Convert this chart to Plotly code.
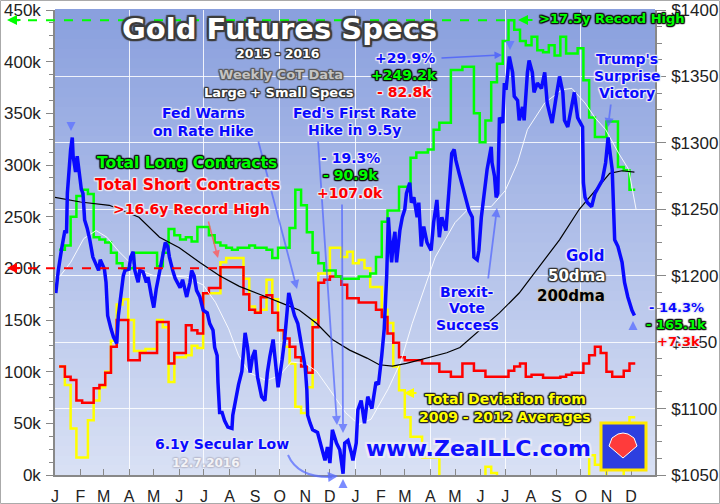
import plotly.graph_objects as go
import pandas as pd

# ---------------- data ----------------
month_letters = ["J", "F", "M", "A", "M", "J", "J", "A", "S", "O", "N", "D"] * 2
month_starts = pd.date_range("2015-01-01", periods=24, freq="MS")

# weekly CoT report dates (Tuesdays)
cot_dates = pd.date_range("2015-01-06", periods=101, freq="7D")

# total long contracts, large + small specs (thousands)
long_k = [218, 222, 250, 270, 276, 272, 230, 228, 225, 215,
          205, 200, 200, 215, 215, 215, 215, 202, 215, 238,
          232, 228, 230, 226, 240, 240, 232, 225, 222, 220,
          218, 220, 220, 222, 220, 220, 218, 210, 220, 220,
          239, 276, 261, 235, 215, 205, 198, 198, 192, 190,
          190, 190, 192, 192, 195, 211, 245, 256, 256, 279,
          279, 307, 312, 312, 315, 334, 341, 341, 392, 392,
          395, 395, 350, 322, 343, 380, 398, 420, 440, 431,
          420, 416, 424, 411, 409, 416, 406, 424, 408, 408,
          413, 382, 346, 327, 327, 342, 342, 298, 295, 276, 276]

# total short contracts (thousands)
short_k = [105, 95, 92, 72, 70, 70, 84, 87, 99, 124,
           150, 150, 111, 111, 118, 118, 118, 148, 148, 108,
           118, 118, 145, 140, 137, 176, 181, 181, 201, 201,
           201, 201, 175, 160, 157, 172, 174, 157, 140, 132,
           124, 114, 105, 99, 143, 186, 189, 192, 192, 184,
           171, 171, 167, 167, 167, 160, 153, 137, 128, 114,
           111, 111, 111, 108, 108, 108, 100, 100, 95, 95,
           108, 108, 101, 101, 95, 95, 95, 95, 101, 105,
           108, 95, 97, 97, 94, 94, 94, 95, 97, 99,
           99, 108, 116, 124, 118, 100, 95, 95, 101, 108, 108]

# total deviation from 2009-2012 averages (thousands)
deviation_k = [105, 87, 45, 17, 17, 53, 72, 85, 100, 130,
               165, 170, 150, 120, 120, 122, 122, 150, 143, 90,
               114, 114, 116, 125, 123, 176, 176, 176, 206, 210,
               210, 210, 190, 163, 158, 160, 189, 170, 140, 124,
               108, 66, 60, 85, 150, 195, 195, 220, 220, 211,
               216, 205, 208, 200, 182, 182, 160, 147, 105, 82,
               56, 37, 37, 17, 17, 17, -10, -25, -30, -30,
               -25, -20, -15, -10, 8, 2, -15, -30, -40, -35,
               -30, -30, -25, -25, -20, -25, -30, -30, -25, -20,
               -5, -2, 19, 10, 10, -5, -8, -5, 10, 56, 56]

gold_dates = [
    "2015-01-02", "2015-01-05", "2015-01-09", "2015-01-13", "2015-01-15", "2015-01-16", "2015-01-20", "2015-01-22",
    "2015-01-23", "2015-01-26", "2015-01-28", "2015-01-30", "2015-02-02", "2015-02-04", "2015-02-06", "2015-02-09",
    "2015-02-12", "2015-02-16", "2015-02-19", "2015-02-23", "2015-02-25", "2015-03-02", "2015-03-04", "2015-03-06",
    "2015-03-10", "2015-03-13", "2015-03-17", "2015-03-19", "2015-03-23", "2015-03-25", "2015-03-27", "2015-04-01",
    "2015-04-03", "2015-04-06", "2015-04-08", "2015-04-12", "2015-04-14", "2015-04-18", "2015-04-22", "2015-04-24",
    "2015-04-28", "2015-05-01", "2015-05-04", "2015-05-06", "2015-05-08", "2015-05-12", "2015-05-15", "2015-05-18",
    "2015-05-20", "2015-05-24", "2015-05-27", "2015-06-02", "2015-06-05", "2015-06-10", "2015-06-14", "2015-06-16",
    "2015-06-19", "2015-06-22", "2015-06-26", "2015-06-30", "2015-07-05", "2015-07-08", "2015-07-12", "2015-07-14",
    "2015-07-17", "2015-07-18", "2015-07-19", "2015-07-20", "2015-07-23", "2015-07-26", "2015-07-30", "2015-08-04",
    "2015-08-05", "2015-08-08", "2015-08-10", "2015-08-12", "2015-08-16", "2015-08-20", "2015-08-23", "2015-08-26",
    "2015-08-29", "2015-09-01", "2015-09-04", "2015-09-09", "2015-09-13", "2015-09-16", "2015-09-19", "2015-09-23",
    "2015-09-26", "2015-09-29", "2015-10-04", "2015-10-07", "2015-10-12", "2015-10-15", "2015-10-16", "2015-10-19",
    "2015-10-23", "2015-10-28", "2015-11-01", "2015-11-03", "2015-11-04", "2015-11-07", "2015-11-10", "2015-11-16",
    "2015-11-21", "2015-11-25", "2015-11-28", "2015-12-01", "2015-12-04", "2015-12-09", "2015-12-13", "2015-12-15",
    "2015-12-17", "2015-12-19", "2015-12-23", "2015-12-27", "2015-12-29", "2016-01-02", "2016-01-04", "2016-01-08",
    "2016-01-12", "2016-01-16", "2016-01-21", "2016-01-26", "2016-01-29", "2016-02-02", "2016-02-05", "2016-02-08",
    "2016-02-10", "2016-02-12", "2016-02-14", "2016-02-16", "2016-02-18", "2016-02-20", "2016-02-24", "2016-02-27",
    "2016-03-01", "2016-03-03", "2016-03-07", "2016-03-09", "2016-03-12", "2016-03-16", "2016-03-18", "2016-03-21",
    "2016-03-24", "2016-03-28", "2016-04-02", "2016-04-05", "2016-04-09", "2016-04-12", "2016-04-15", "2016-04-20",
    "2016-04-24", "2016-04-27", "2016-04-30", "2016-05-02", "2016-05-06", "2016-05-09", "2016-05-14", "2016-05-18",
    "2016-05-22", "2016-05-24", "2016-05-28", "2016-05-30", "2016-06-02", "2016-06-06", "2016-06-09", "2016-06-14",
    "2016-06-15", "2016-06-18", "2016-06-20", "2016-06-22", "2016-06-24", "2016-06-28", "2016-06-30", "2016-07-02",
    "2016-07-06", "2016-07-10", "2016-07-12", "2016-07-16", "2016-07-18", "2016-07-22", "2016-07-24", "2016-07-28",
    "2016-07-30", "2016-08-03", "2016-08-05", "2016-08-09", "2016-08-14", "2016-08-18", "2016-08-21", "2016-08-24",
    "2016-08-27", "2016-09-01", "2016-09-05", "2016-09-09", "2016-09-11", "2016-09-15", "2016-09-20", "2016-09-23",
    "2016-09-27", "2016-10-03", "2016-10-04", "2016-10-06", "2016-10-09", "2016-10-14", "2016-10-18", "2016-10-22",
    "2016-10-27", "2016-10-31", "2016-11-03", "2016-11-08", "2016-11-11", "2016-11-15", "2016-11-20", "2016-11-23",
    "2016-11-27", "2016-12-02", "2016-12-05"]
gold_price = [
    1187, 1204, 1220, 1234, 1232, 1262, 1295, 1304,
    1290, 1278, 1290, 1280, 1265, 1262, 1242, 1236,
    1228, 1214, 1210, 1204, 1212, 1205, 1195, 1170,
    1160, 1154, 1149, 1170, 1190, 1200, 1204, 1205,
    1214, 1218, 1204, 1195, 1204, 1203, 1195, 1199,
    1185, 1176, 1190, 1197, 1204, 1217, 1225, 1222,
    1214, 1204, 1198, 1191, 1197, 1184, 1195, 1204,
    1200, 1189, 1184, 1174, 1172, 1164, 1159, 1146,
    1140, 1120, 1101, 1097, 1097, 1091, 1086, 1085,
    1095, 1105, 1114, 1118, 1128, 1157, 1146, 1127,
    1139, 1144, 1124, 1109, 1106, 1127, 1139, 1152,
    1134, 1116, 1137, 1152, 1187, 1180, 1176, 1170,
    1164, 1146, 1131, 1114, 1095, 1089, 1084, 1082,
    1071, 1061, 1071, 1059, 1084, 1074, 1069, 1058,
    1051, 1074, 1076, 1067, 1061, 1074, 1099, 1106,
    1089, 1109, 1100, 1120, 1118, 1140, 1160, 1200,
    1244, 1225, 1210, 1225, 1233, 1210, 1234, 1244,
    1250, 1262, 1270, 1255, 1259, 1244, 1255, 1222,
    1237, 1225, 1219, 1240, 1257, 1229, 1244, 1234,
    1267, 1292, 1295, 1287, 1277, 1270, 1257, 1249,
    1244, 1214, 1212, 1219, 1244, 1264, 1280, 1297,
    1285, 1275, 1259, 1262, 1319, 1315, 1345, 1340,
    1365, 1353, 1335, 1332, 1317, 1327, 1317, 1353,
    1362, 1353, 1338, 1345, 1341, 1353, 1330, 1322,
    1315, 1335, 1350, 1338, 1317, 1312, 1327, 1338,
    1319, 1312, 1270, 1259, 1255, 1252, 1262, 1267,
    1272, 1285, 1304, 1280, 1227, 1222, 1210, 1195,
    1184, 1174, 1170]

dma200_dates = ["2015-01-01", "2015-02-01", "2015-03-08", "2015-04-13", "2015-05-08", "2015-06-01", "2015-06-26",
                "2015-07-20", "2015-08-13", "2015-08-26", "2015-09-15", "2015-10-05", "2015-10-25", "2015-11-15",
                "2015-12-04", "2015-12-25", "2016-01-15", "2016-01-30", "2016-02-15", "2016-03-03", "2016-03-28",
                "2016-04-21", "2016-05-07", "2016-05-31", "2016-06-24", "2016-07-18", "2016-08-12", "2016-09-05",
                "2016-09-29", "2016-10-20", "2016-11-05", "2016-11-20", "2016-12-05"]
dma200 = [1259, 1255.5, 1253, 1244, 1229, 1221, 1210,
          1200, 1192, 1189, 1184, 1179, 1174, 1164,
          1152, 1144, 1138, 1133, 1132, 1134, 1138,
          1142, 1146, 1159, 1172, 1187, 1207, 1227,
          1250, 1265, 1277, 1279, 1278]

dma50_dates = ["2015-01-01", "2015-01-20", "2015-02-05", "2015-02-20", "2015-03-05", "2015-03-20", "2015-04-10",
               "2015-05-01", "2015-05-20", "2015-06-10", "2015-06-30", "2015-07-15", "2015-07-31", "2015-08-12",
               "2015-08-25", "2015-09-15", "2015-10-01", "2015-10-15", "2015-11-01", "2015-11-15", "2015-12-01",
               "2015-12-20", "2016-01-05", "2016-01-20", "2016-02-10", "2016-02-25", "2016-03-10", "2016-04-07",
               "2016-05-01", "2016-05-20", "2016-06-14", "2016-07-01", "2016-07-16", "2016-07-28", "2016-08-18",
               "2016-09-08", "2016-09-20", "2016-10-06", "2016-10-18", "2016-10-31", "2016-11-16", "2016-11-28",
               "2016-12-07"]
dma50 = [1195, 1210, 1228, 1234, 1229, 1218, 1205,
         1200, 1200, 1199, 1193, 1180, 1160, 1140,
         1127, 1121, 1125, 1135, 1134, 1128, 1114,
         1097, 1088, 1092, 1115, 1135, 1164, 1214,
         1240, 1252, 1252, 1264, 1285, 1310, 1330,
         1340, 1341, 1330, 1319, 1310, 1292, 1280,
         1250]

# ---------------- geometry helpers (pixel -> paper) ----------------
W, H = 720, 504
ML, MR, MT, MB = 55, 65, 10, 29
PW, PH = W - ML - MR, H - MT - MB


def px(x):
    return (x - ML) / PW


def py(y):
    return (H - MB - y) / PH


def outline(c, w=1):
    offs = [(-w, -w), (w, -w), (-w, w), (w, w), (0, w), (0, -w), (w, 0), (-w, 0)]
    return ", ".join(f"{dx}px {dy}px 1px {c}" for dx, dy in offs)


BLUE = "#0a0aff"
GREEN = "#00ff00"
RED = "#ff0000"
YELLOW = "#ffff00"
LIGHT = "rgba(235,235,245,0.95)"
DARK = "#333333"
FONT = "DejaVu Sans"

fig = go.Figure()

fig.add_trace(go.Scatter(x=cot_dates, y=deviation_k, mode="lines", line=dict(color=YELLOW, width=2.5, shape="hv"),
                         xaxis="x", yaxis="y", hoverinfo="skip"))
fig.add_trace(go.Scatter(x=cot_dates, y=short_k, mode="lines", line=dict(color=RED, width=2.5, shape="hv"),
                         xaxis="x", yaxis="y", hoverinfo="skip"))
fig.add_trace(go.Scatter(x=cot_dates, y=long_k, mode="lines", line=dict(color=GREEN, width=2.5, shape="hv"),
                         xaxis="x", yaxis="y", hoverinfo="skip"))
fig.add_trace(go.Scatter(x=dma50_dates, y=dma50, mode="lines", line=dict(color="rgba(255,255,255,0.9)", width=1),
                         xaxis="x", yaxis="y2", hoverinfo="skip"))
fig.add_trace(go.Scatter(x=dma200_dates, y=dma200, mode="lines", line=dict(color="#000000", width=1.2),
                         xaxis="x", yaxis="y2", hoverinfo="skip"))
fig.add_trace(go.Scatter(x=gold_dates, y=gold_price, mode="lines", line=dict(color=BLUE, width=3.5),
                         xaxis="x", yaxis="y2", hoverinfo="skip"))

xr = ["2015-01-01", "2016-12-30"]
tickfont = dict(family="Liberation Sans", size=17, color="#222222")

fig.update_layout(
    width=W, height=H,
    margin=dict(l=ML, r=MR, t=MT, b=MB, pad=0, autoexpand=False),
    paper_bgcolor="white",
    plot_bgcolor="rgba(0,0,0,0)",
    showlegend=False,
    xaxis=dict(type="date", range=xr, tickmode="array", tickvals=month_starts, ticktext=month_letters,
               ticks="inside", ticklen=6, tickcolor="#888888", showgrid=False, showline=True,
               linecolor="#888888", linewidth=1.5, tickfont=dict(family="Liberation Sans", size=16, color="#222222"),
               ticklabelstandoff=6, zeroline=False, automargin=False),
    xaxis2=dict(type="date", range=xr, overlaying="x", anchor="y", tick0="2015-01-01", dtick="M3",
                showgrid=True, gridcolor="rgba(255,255,255,0.85)", gridwidth=1.2,
                showticklabels=False, ticks="", showline=False, zeroline=False, automargin=False),
    yaxis=dict(range=[0, 450], dtick=50, ticksuffix="k", ticks="outside", ticklen=7, tickcolor="#888888",
               showgrid=False, showline=True, linecolor="#888888", linewidth=1.5, zeroline=False,
               tickfont=tickfont, ticklabelstandoff=2, automargin=False,
               minor=dict(dtick=12.5, ticks="outside", ticklen=4, tickcolor="#888888")),
    yaxis2=dict(range=[1050, 1400], dtick=50, tickprefix="$", overlaying="y", side="right", anchor="x",
                ticks="outside", ticklen=9, tickcolor="#888888", showgrid=True,
                gridcolor="rgba(255,255,255,0.85)", gridwidth=1.2, showline=True, linecolor="#888888",
                linewidth=1.5, zeroline=False, tickfont=tickfont, ticklabelstandoff=2, automargin=False,
                minor=dict(dtick=12.5, ticks="outside", ticklen=5, tickcolor="#888888")),
)
# invisible trace so the quarterly grid axis renders
fig.add_trace(go.Scatter(x=[xr[0]], y=[None], xaxis="x2", yaxis="y", mode="lines", hoverinfo="skip"))

shapes = []
# gradient plot background
top_c = (138, 160, 222)
bot_c = (216, 224, 244)
N = 48
for i in range(N):
    t = i / (N - 1)
    c = tuple(int(round(bot_c[k] + (top_c[k] - bot_c[k]) * t)) for k in range(3))
    shapes.append(dict(type="rect", xref="paper", yref="paper", x0=0, x1=1, y0=i / N, y1=(i + 1) / N + 0.002,
                       fillcolor=f"rgb{c}", line=dict(width=0), layer="below"))

# record-high dashed lines
shapes.append(dict(type="line", xref="paper", yref="y", x0=px(10), x1=px(507), y0=max(long_k), y1=max(long_k),
                   line=dict(color=GREEN, width=2, dash="dash")))
shapes.append(dict(type="line", xref="paper", yref="y", x0=px(10), x1=px(220), y0=200, y1=200,
                   line=dict(color=RED, width=2, dash="dash")))

# secular low curved arrow
shapes.append(dict(type="path", xref="paper", yref="paper",
                   path=f"M {px(288)},{py(455)} Q {px(298)},{py(478)} {px(332)},{py(477)}",
                   line=dict(color="rgba(90,110,255,0.75)", width=2)))

# logo
shapes.append(dict(type="rect", xref="paper", yref="paper", x0=px(601), x1=px(646), y0=py(470), y1=py(423),
                   fillcolor="#2d3fe0", line=dict(color="#ffe800", width=3)))
shapes.append(dict(type="path", xref="paper", yref="paper",
                   path=(f"M {px(623)},{py(458)} L {px(609)},{py(446)} L {px(612)},{py(438)} L {px(618)},{py(434)} "
                         f"L {px(623)},{py(433)} L {px(628)},{py(434)} L {px(634)},{py(438)} L {px(637)},{py(446)} Z"),
                   fillcolor="#ff3b3b", line=dict(color="white", width=1)))
# figure border
shapes.append(dict(type="rect", xref="paper", yref="paper", x0=px(0.5), x1=px(719.5), y0=py(503.5), y1=py(0.5),
                   line=dict(color="#aaaaaa", width=1)))
fig.update_layout(shapes=shapes)

ann = []


def text(t, x, y, size, color, oc, ow=1, xanchor="center", family=FONT):
    ann.append(dict(text=t, x=px(x), y=py(y), xref="paper", yref="paper", showarrow=False,
                    xanchor=xanchor, yanchor="middle",
                    font=dict(family=family, size=size, color=color, weight="bold", shadow=outline(oc, ow))))


def arrow(hx, hy, tx, ty, color, width=2, head=2, size=1.0):
    ann.append(dict(text="", x=px(hx), y=py(hy), xref="paper", yref="paper", showarrow=True,
                    ax=tx - hx, ay=ty - hy, axref="pixel", ayref="pixel",
                    arrowcolor=color, arrowwidth=width, arrowhead=head, arrowsize=size, standoff=0))


text("Gold Futures Specs", 279, 29, 29, "white", "#3c3c3c", 2)
text("2015 - 2016", 278, 54, 12.5, "white", DARK)
text("Weekly CoT Data", 281, 74, 13, "#c4c4c4", "#5a5a5a")
text("Large + Small Specs", 279, 92, 13, "white", DARK)

text("+29.9%", 405, 58, 14, BLUE, LIGHT)
text("+249.2k", 404, 75, 14, GREEN, "#111111")
text("- 82.8k", 404, 92, 14, RED, LIGHT)
arrow(502, 55, 440, 58, "rgba(70,90,255,0.75)", 1.5)

text("Fed Warns", 203, 113, 14, BLUE, LIGHT)
text("on Rate Hike", 203, 131, 14, BLUE, LIGHT)
arrow(297, 289, 258, 140, "rgba(80,100,255,0.7)", 1.8)

text("Fed's First Rate", 355, 113, 14, BLUE, LIGHT)
text("Hike in 9.5y", 354, 130, 14, BLUE, LIGHT)
arrow(337, 425, 318, 140, "rgba(80,100,255,0.7)", 1.8)

text("- 19.3%", 350, 158, 14, BLUE, LIGHT)
text("- 90.9k", 350, 175, 14, GREEN, "#111111")
text("+107.0k", 350, 193, 14, RED, LIGHT)
arrow(343, 433, 342, 203, "rgba(80,100,255,0.7)", 1.8)

text("Total Long Contracts", 187, 163, 15.5, GREEN, "#111111")
text("Total Short Contracts", 187, 185, 15.5, RED, LIGHT)
text(">16.6y Record High", 191, 209, 14, RED, LIGHT)
arrow(218, 258, 208, 220, "rgba(255,90,90,0.8)", 1.5)

text(">17.5y Record High", 537, 18, 13, GREEN, "#111111", xanchor="left")
arrow(518, 20, 534, 20, GREEN, 2, 2)
arrow(7, 20, 22, 20, GREEN, 2, 2)
arrow(7, 268, 22, 268, RED, 2, 2)

text("Trump's", 627, 59, 14, BLUE, LIGHT)
text("Surprise", 627, 76, 14, BLUE, LIGHT)
text("Victory", 627, 93, 14, BLUE, LIGHT)
arrow(608, 127, 611, 103, "rgba(80,100,255,0.7)", 1.8)

text("Gold", 607, 256, 15, BLUE, LIGHT, xanchor="right")
text("50dma", 607, 276, 15, "white", DARK, xanchor="right")
text("200dma", 607, 296, 15, "black", "rgba(200,200,200,0.95)", xanchor="right")

text("Brexit-", 467, 292, 14, BLUE, LIGHT)
text("Vote", 467, 308, 14, BLUE, LIGHT)
text("Success", 467, 325, 14, BLUE, LIGHT)
arrow(497, 208, 488, 280, "rgba(80,100,255,0.7)", 1.8)

text("- 14.3%", 676, 307, 13, BLUE, LIGHT)
text("- 165.1k", 676, 324, 13, GREEN, "#111111")
text("+7.3k", 678, 341, 13, RED, LIGHT)

text("6.1y Secular Low", 222, 444, 14, BLUE, LIGHT)
text("12.7.2016", 206, 463, 12, "rgba(255,255,255,0.85)", "rgba(180,180,200,0.5)")
arrow(338, 476, 328, 477, "rgba(90,110,255,0.8)", 2)

text("Total Deviation from", 505, 399, 14, YELLOW, "#222222")
text("2009 - 2012 Averages", 505, 417, 14, YELLOW, "#222222")
arrow(404, 393, 418, 393, YELLOW, 2)

text("www.ZealLLC.com", 478, 448, 22, "#1010ff", "rgba(235,235,245,0.95)", 2)

# chevron markers at key gold turning points
chev = "rgba(100,120,255,0.85)"
arrow(71, 131, 71, 121, chev, 1.5, 2, 1.2)
arrow(510, 50, 510, 41, chev, 1.5, 2, 1.2)
arrow(343, 479, 343, 489, chev, 1.5, 2, 1.2)
arrow(633, 321, 633, 331, chev, 1.5, 2, 1.2)

fig.update_layout(annotations=ann)
fig.write_html("out.html", config={"displayModeBar": False},
               post_script="document.body.style.margin='0';document.body.style.overflow='hidden';")
